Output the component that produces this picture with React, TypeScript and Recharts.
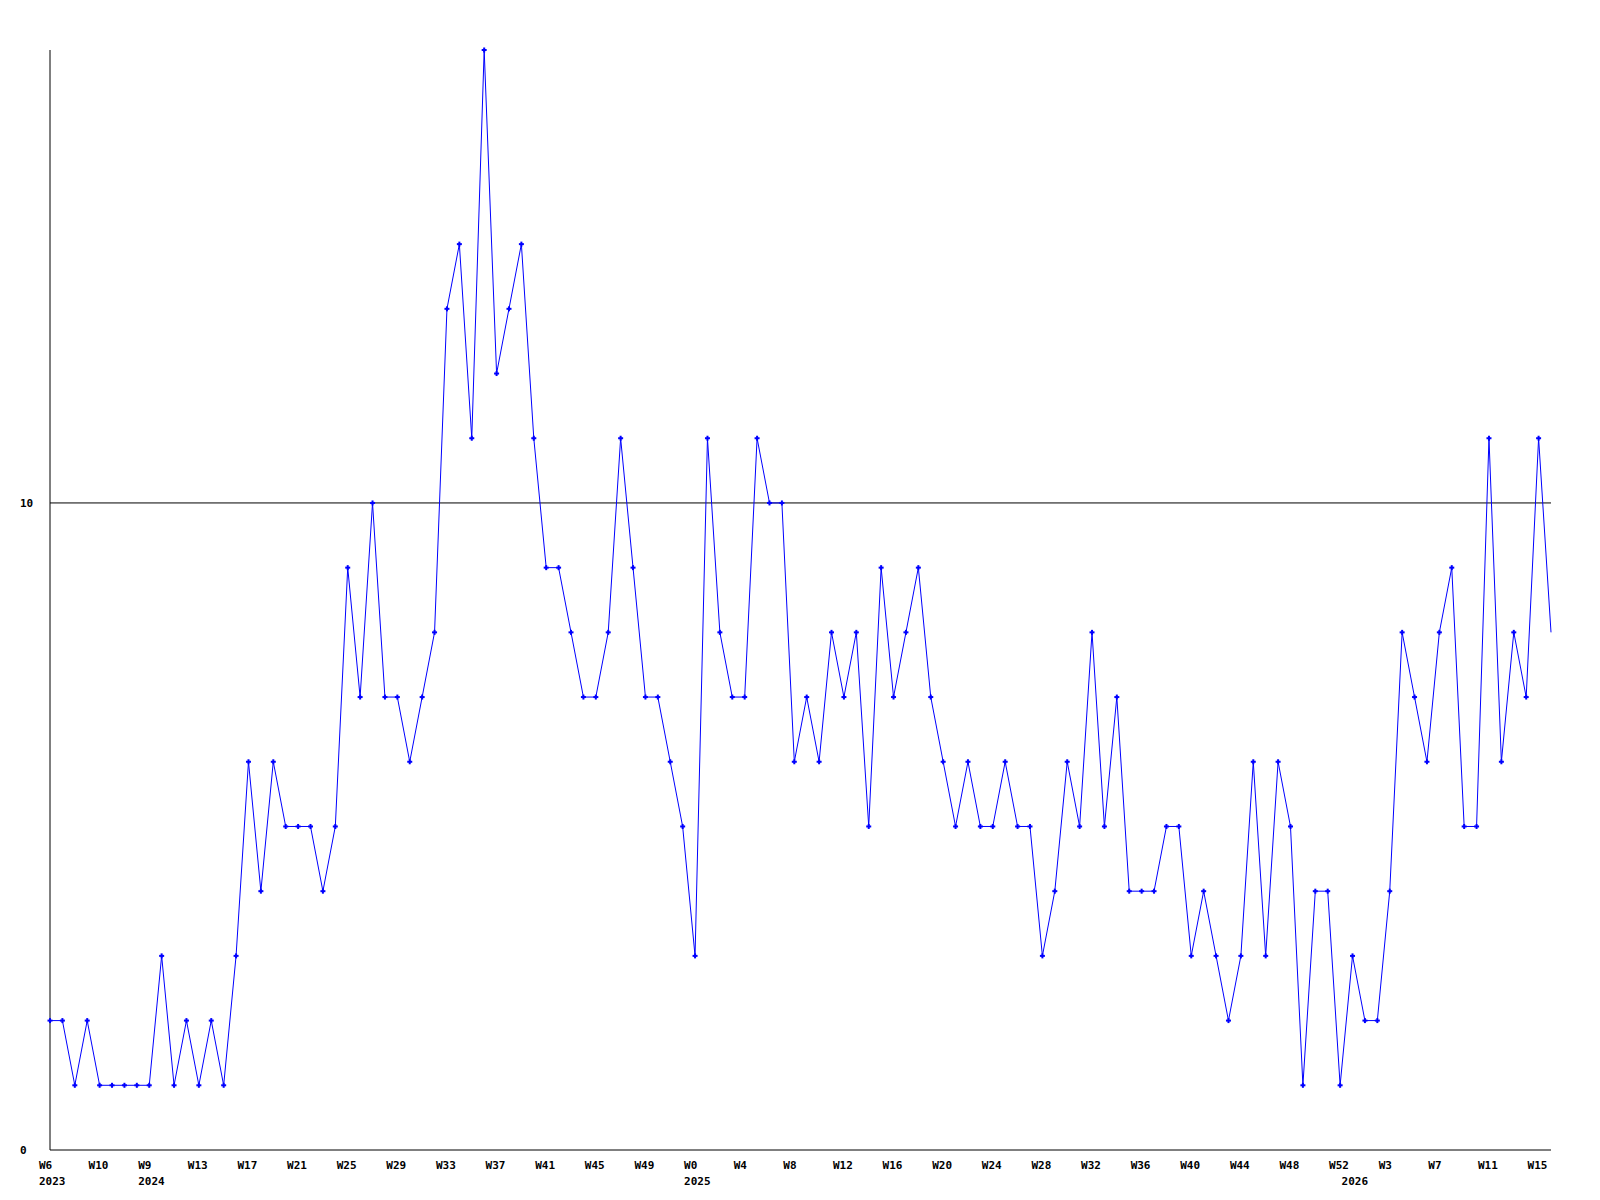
import React from 'react';
import { LineChart, Line, XAxis, YAxis, ReferenceLine } from 'recharts';

const values: number[] = [
  2, 2, 1, 2, 1, 1, 1, 1, 1, 3,
  1, 2, 1, 2, 1, 3, 6, 4, 6, 5,
  5, 5, 4, 5, 9, 7, 10, 7, 7, 6,
  7, 8, 13, 14, 11, 17, 12, 13, 14, 11,
  9, 9, 8, 7, 7, 8, 11, 9, 7, 7,
  6, 5, 3, 11, 8, 7, 7, 11, 10, 10,
  6, 7, 6, 8, 7, 8, 5, 9, 7, 8,
  9, 7, 6, 5, 6, 5, 5, 6, 5, 5,
  3, 4, 6, 5, 8, 5, 7, 4, 4, 4,
  5, 5, 3, 4, 3, 2, 3, 6, 3, 6,
  5, 1, 4, 4, 1, 3, 2, 2, 4, 8,
  7, 6, 8, 9, 5, 5, 11, 6, 8, 7,
  11, 8,
];

const weekTickLabels: string[] = [
  'W6', 'W10', 'W9', 'W13', 'W17', 'W21', 'W25', 'W29', 'W33', 'W37', 'W41',
  'W45', 'W49', 'W0', 'W4', 'W8', 'W12', 'W16', 'W20', 'W24', 'W28', 'W32',
  'W36', 'W40', 'W44', 'W48', 'W52', 'W3', 'W7', 'W11', 'W15',
];
const weekTickStep = 4;

const yearIndices: number[] = [0, 8, 52, 105];
const yearLabels: string[] = ['2023', '2024', '2025', '2026'];

const yTicks: number[] = [0, 10];
const yMax = 17;

const data = values.map((v, i) => ({ idx: i, value: v }));
const xTicks: number[] = Array.from(
  new Set([...weekTickLabels.map((_, i) => i * weekTickStep), ...yearIndices])
).sort((a, b) => a - b);

const FONT = '"DejaVu Sans Mono", monospace';

const XTick = (props: any) => {
  const { x, y, payload } = props;
  const v = payload.value as number;
  const wi = v % weekTickStep === 0 ? v / weekTickStep : -1;
  const week = wi >= 0 && wi < weekTickLabels.length ? weekTickLabels[wi] : null;
  const yi = yearIndices.indexOf(v);
  return (
    <g>
      {week && (
        <text x={x - 11} y={y + 18.5} textAnchor="start" fontFamily={FONT} fontWeight="bold" fontSize={11} fill="#000">
          {week}
        </text>
      )}
      {yi >= 0 && (
        <text x={x - 11} y={y + 34.5} textAnchor="start" fontFamily={FONT} fontWeight="bold" fontSize={11} fill="#000">
          {yearLabels[yi]}
        </text>
      )}
    </g>
  );
};

const YTick = (props: any) => {
  const { x, y, payload } = props;
  return (
    <text x={x - 30} y={y + 4} textAnchor="start" fontFamily={FONT} fontWeight="bold" fontSize={11} fill="#000">
      {payload.value}
    </text>
  );
};

const Dot = (props: any) => {
  const { cx, cy, index } = props;
  if (index === values.length - 1 || cx == null || cy == null) return <g key={`d${index}`} />;
  return (
    <g key={`d${index}`}>
      <rect x={cx - 2.5} y={cy - 1} width={5} height={2} fill="#0000ff" />
      <rect x={cx - 1} y={cy - 2.5} width={2} height={5} fill="#0000ff" />
    </g>
  );
};

export default function App() {
  return (
    <div style={{ position: 'absolute', left: 0, top: 0, width: 1600, height: 1200, background: '#fff' }}>
      <LineChart width={1600} height={1200} data={data} margin={{ top: 50, right: 49, bottom: 0, left: 0 }}>
        <XAxis
          dataKey="idx"
          type="number"
          domain={[0, values.length - 1]}
          ticks={xTicks}
          interval={0}
          height={50}
          tickSize={0}
          tickMargin={0}
          tickLine={false}
          axisLine={{ stroke: '#000', strokeWidth: 1 }}
          tick={<XTick />}
        />
        <YAxis
          type="number"
          domain={[0, yMax]}
          ticks={yTicks}
          interval={0}
          width={50}
          tickSize={0}
          tickMargin={0}
          tickLine={false}
          axisLine={{ stroke: '#000', strokeWidth: 1 }}
          tick={<YTick />}
        />
        <ReferenceLine y={10} stroke="#000" strokeWidth={1} />
        <Line
          type="linear"
          dataKey="value"
          stroke="#0000ff"
          strokeWidth={1}
          dot={<Dot />}
          activeDot={false}
          isAnimationActive={false}
        />
      </LineChart>
    </div>
  );
}
